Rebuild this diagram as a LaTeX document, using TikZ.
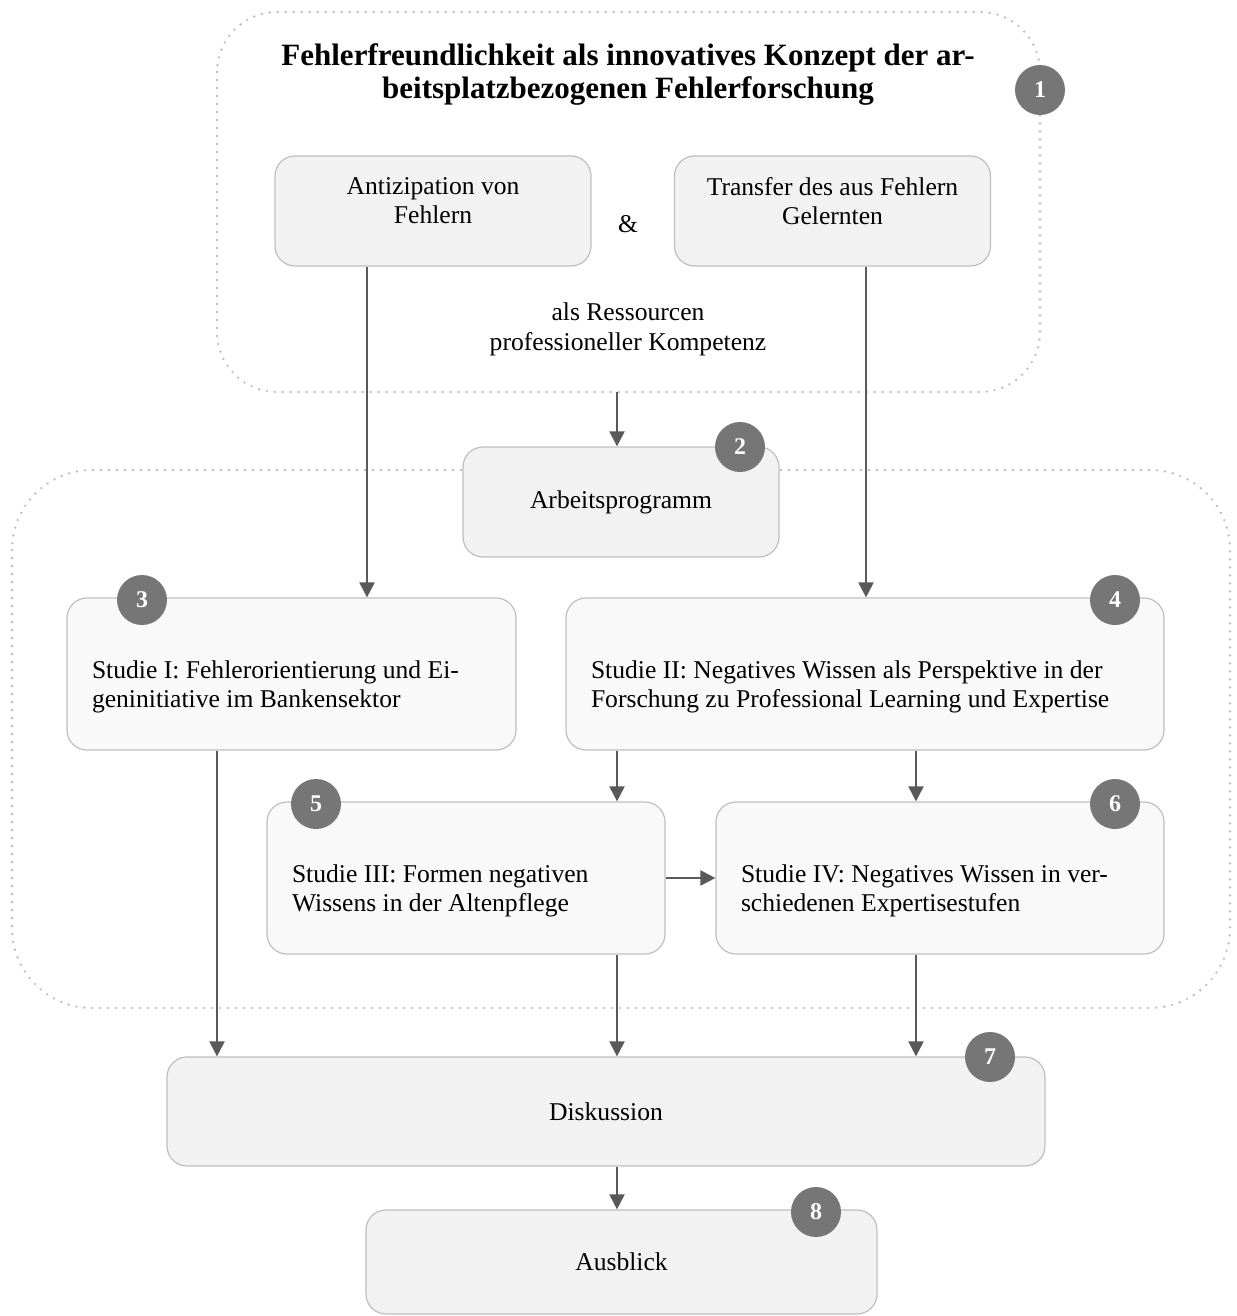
\documentclass[tikz,border=0pt]{standalone}
\usepackage{fontspec}
\setmainfont{Liberation Serif}
\usetikzlibrary{arrows.meta}

\definecolor{pfeilgrau}{HTML}{595959}
\definecolor{rahmengrau}{HTML}{BDBDBD}
\definecolor{kantengrau}{HTML}{BFBFBF}
\definecolor{fuellgrau}{HTML}{F2F2F2}
\definecolor{hellgrau}{HTML}{F9F9F9}
\definecolor{kreisgrau}{HTML}{767676}

\begin{document}
\begin{tikzpicture}[x=0.5pt,y=-0.5pt,>={Triangle[length=7.5pt,width=7.5pt]},
        arr/.style={->,draw=pfeilgrau,line width=1pt},
        bereich/.style={draw=rahmengrau,line width=1.3pt,dash pattern=on 0pt off 4pt,line cap=round},
        kasten/.style={draw=kantengrau,fill=fuellgrau,rounded corners=10pt,line width=0.6pt,inner sep=0pt,
          font=\fontsize{12.8}{14.5}\selectfont},
        oben/.style={kasten,align=center,text depth=10pt,minimum width=158pt,minimum height=55pt},
        studie/.style={kasten,fill=hellgrau,align=flush left,text height=22pt,minimum height=76pt},
        nummer/.style={circle,fill=kreisgrau,text=white,inner sep=0pt,minimum size=25pt,
          font=\bfseries\fontsize{12}{12}\selectfont}]

        \useasboundingbox (0,0) rectangle (1236,1316);

        % gepunktete Bereiche
        \draw[bereich,rounded corners=30pt] (217,12) rectangle (1040,392);
        \draw[bereich,rounded corners=40pt] (12,470) rectangle (1230,1008);
        \coordinate (obenrand) at (617,392);

        % Konzept
        \node[align=center,font=\bfseries\fontsize{15.5}{16.5}\selectfont] (titel) at (628,75)
          {Fehlerfreundlichkeit als innovatives Konzept der ar-\\beitsplatzbezogenen Fehlerforschung};
        \node[oben] (anti) at (433,211) {Antizipation von\\Fehlern};
        \node[oben] (trans) at (832.5,211) {Transfer des aus Fehlern\\Gelernten};
        \node[font=\fontsize{12.8}{14.5}\selectfont] (und) at (628,224) {\&};
        \node[align=center,font=\fontsize{12.8}{15}\selectfont] (ressourcen) at (628,329)
          {als Ressourcen\\professioneller Kompetenz};

        % Arbeitsprogramm und Studien
        \node[kasten,minimum width=158pt,minimum height=55pt] (arbeit) at (621,502) {Arbeitsprogramm};
        \node[studie,minimum width=224.5pt,text width=199.5pt] (st1) at (291.5,674)
          {Studie I: Fehlerorientierung und Ei-\\geninitiative im Bankensektor};
        \node[studie,minimum width=299pt,text width=274pt] (st2) at (865,674)
          {Studie II: Negatives Wissen als Perspektive in der\\Forschung zu Professional Learning und Expertise};
        \node[studie,minimum width=199pt,text width=174pt] (st3) at (466,878)
          {Studie III: Formen negativen\\Wissens in der Altenpflege};
        \node[studie,minimum width=224pt,text width=199pt] (st4) at (940,878)
          {Studie IV: Negatives Wissen in ver-\\schiedenen Expertisestufen};
        \node[kasten,minimum width=439pt,minimum height=54.5pt] (disk) at (606,1111.5) {Diskussion};
        \node[kasten,minimum width=255.5pt,minimum height=52pt] (aus) at (621.5,1262) {Ausblick};

        % Pfeile
        \draw[arr] ([xshift=-33pt]anti.south) -- ([xshift=-33pt]anti.south |- st1.north);
        \draw[arr] ([xshift=16.75pt]trans.south) -- ([xshift=16.75pt]trans.south |- st2.north);
        \draw[arr] (obenrand) -- (obenrand |- arbeit.north);
        \draw[arr] ([xshift=-124pt]st2.south) -- ([xshift=-124pt]st2.south |- st3.north);
        \draw[arr] ([xshift=25.5pt]st2.south) -- ([xshift=25.5pt]st2.south |- st4.north);
        \draw[arr] (st3.east) -- (st4.west);
        \draw[arr] ([xshift=-37.25pt]st1.south) -- ([xshift=-37.25pt]st1.south |- disk.north);
        \draw[arr] ([xshift=75.5pt]st3.south) -- ([xshift=75.5pt]st3.south |- disk.north);
        \draw[arr] ([xshift=-12pt]st4.south) -- ([xshift=-12pt]st4.south |- disk.north);
        \draw[arr] ([xshift=5.5pt]disk.south) -- ([xshift=5.5pt]disk.south |- aus.north);

        % Nummern
        \node[nummer] (n1) at (1040,90) {1};
        \node[nummer] (n2) at (740,447) {2};
        \node[nummer] (n3) at (142,600) {3};
        \node[nummer] (n4) at (1115,600) {4};
        \node[nummer] (n5) at (316,804) {5};
        \node[nummer] (n6) at (1115,804) {6};
        \node[nummer] (n7) at (990,1057) {7};
        \node[nummer] (n8) at (816,1212) {8};
      \end{tikzpicture}
\end{document}
